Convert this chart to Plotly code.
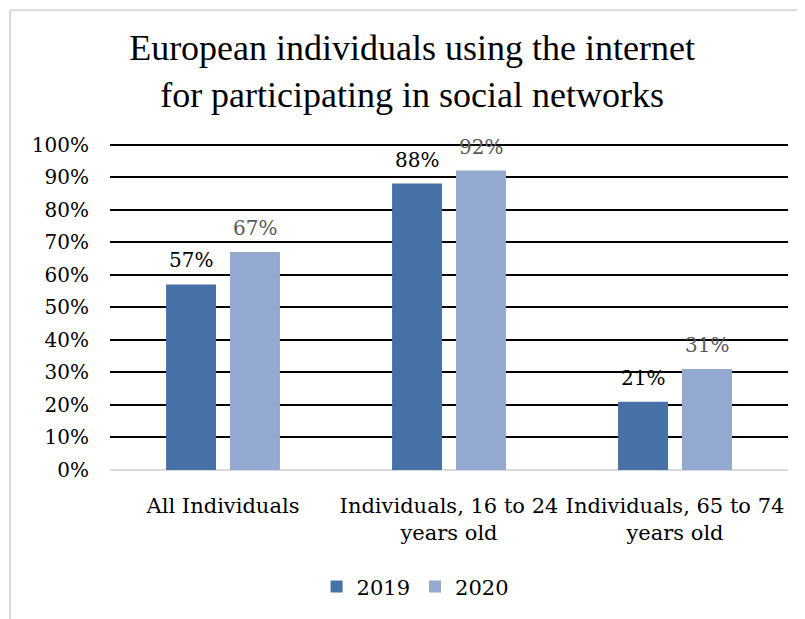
import plotly.graph_objects as go

categories = ["All Individuals", "Individuals, 16 to 24<br>years old", "Individuals, 65 to 74<br>years old"]
series_names = ["2019", "2020"]
values_2019 = [0.57, 0.88, 0.21]
values_2020 = [0.67, 0.92, 0.31]
tick_vals = [i / 10 for i in range(11)]
tick_text = [f"{i*10}%" for i in range(11)]

c2019 = "#4672A8"
c2020 = "#94A9CF"
FONT = "DejaVu Serif"

fig = go.Figure()
fig.add_trace(go.Bar(x=categories, y=values_2019, name=series_names[0], marker=dict(color=c2019, line=dict(width=0))))
fig.add_trace(go.Bar(x=categories, y=values_2020, name=series_names[1], marker=dict(color=c2020, line=dict(width=0))))

annotations = []
for vals, shift, col in [(values_2019, -32, "#000000"), (values_2020, 32, "#595959")]:
    for cat, v in zip(categories, vals):
        annotations.append(dict(x=cat, y=v, text=f"{round(v*100)}%", showarrow=False,
                                xshift=shift, yshift=24, yanchor="middle",
                                font=dict(family=FONT, size=20, color=col)))

fig.update_layout(
    width=797, height=611,
    margin=dict(l=102, r=17, t=130, b=145),
    paper_bgcolor="white", plot_bgcolor="white",
    title=dict(text="European individuals using the internet<br>for participating in social networks",
               x=0.507, xref="container", xanchor="center", y=0.915, yanchor="middle",
               font=dict(family="Liberation Serif", size=36, color="black")),
    barmode="group", bargap=0.434, bargroupgap=0.219,
    showlegend=True,
    legend=dict(orientation="h", x=0.45, xanchor="center", y=-0.352, yanchor="middle",
                font=dict(family=FONT, size=21, color="black"), itemclick=False),
    annotations=annotations,
    xaxis=dict(showgrid=False, showline=False, ticks="", ticklabelstandoff=21,
               tickfont=dict(family=FONT, size=21, color="black")),
    yaxis=dict(range=[0, 1.02], tickvals=tick_vals, ticktext=tick_text, showgrid=True,
               gridcolor="black", gridwidth=2, zeroline=True, zerolinecolor="#D9D9D9", zerolinewidth=2,
               showline=False, ticks="", ticklen=0, ticklabelstandoff=20,
               tickfont=dict(family=FONT, size=20, color="black")),
    shapes=[
        dict(type="line", xref="paper", yref="paper", x0=-0.1475, x1=1.03, y0=1.385, y1=1.385,
             line=dict(color="#D9D9D9", width=2)),
        dict(type="line", xref="paper", yref="paper", x0=-0.1475, x1=-0.1475, y0=-0.45, y1=1.385,
             line=dict(color="#D9D9D9", width=2)),
    ],
)

fig.write_html("out.html")
